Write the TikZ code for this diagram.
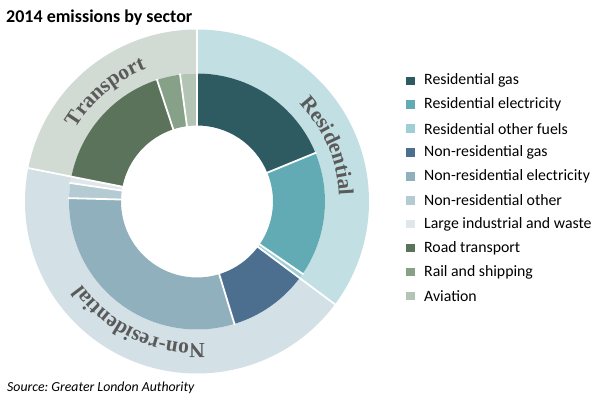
\documentclass[tikz,border=0pt]{standalone}
\usepackage{fontspec}
\setmainfont{Carlito}
\newfontfamily\arcfont{Liberation Serif}
\usetikzlibrary{decorations.text}
\frenchspacing

\definecolor{resgas}{HTML}{2E5A61}
\definecolor{reselec}{HTML}{62ABB5}
\definecolor{resother}{HTML}{9FCFD5}
\definecolor{nrgas}{HTML}{4D6F8F}
\definecolor{nrelec}{HTML}{8FB0BC}
\definecolor{nrother}{HTML}{B5CBD3}
\definecolor{largeind}{HTML}{DFE7EA}
\definecolor{road}{HTML}{5B735B}
\definecolor{rail}{HTML}{87A088}
\definecolor{aviat}{HTML}{B3C4B5}
\definecolor{outres}{HTML}{C2DFE3}
\definecolor{outnonres}{HTML}{D3E0E6}
\definecolor{outtrans}{HTML}{D2DBD3}
\definecolor{lblgray}{HTML}{5A5A5A}

% annular sector: colour, start, end, inner radius, outer radius
\newcommand\ringseg[5]{%
  \fill[#1] ([shift={(C)}]#2:#5) arc[start angle=#2, end angle=#3, radius=#5]
    -- ([shift={(C)}]#3:#4) arc[start angle=#3, end angle=#2, radius=#4] -- cycle;}
\newcommand\sepline[3]{%
  \draw[sep] ([shift={(C)}]#1:#2) -- ([shift={(C)}]#1:#3);}
\newcommand\arclabel[4]{%
  \path[decorate, decoration={text along path, text align=center,
      text color=lblgray, text={|\arcfont\bfseries\fontsize{21.5}{21.5}\selectfont|#4}}]
    ([shift={(C)}]#1:#3) arc[start angle=#1, end angle=#2, radius=#3];}

\tikzset{
  sep/.style={white, line width=1.8pt},
  legsq/.style={fill=#1, minimum size=8.5pt, inner sep=0pt, draw=none},
  legtxt/.style={anchor=west, inner sep=0pt, font=\fontsize{15.8}{18}\selectfont, text=black},
}

\begin{document}
\begin{tikzpicture}
\useasboundingbox (0,0) rectangle (610pt,401pt);
\fill[white] (0,0) rectangle (610pt,401pt);
\coordinate (C) at (197pt,199.5pt);

% outer ring
\ringseg{outres}{90}{-36.7}{128pt}{172pt}
\ringseg{outnonres}{-36.7}{-191.2}{128pt}{172pt}
\ringseg{outtrans}{-191.2}{-270}{128pt}{172pt}

% inner ring
\ringseg{resgas}{90}{22.3}{76pt}{128pt}
\ringseg{reselec}{22.3}{-34.4}{76pt}{128pt}
\ringseg{resother}{-34.4}{-36.7}{76pt}{128pt}
\ringseg{nrgas}{-36.7}{-73}{76pt}{128pt}
\ringseg{nrelec}{-73}{-181.5}{76pt}{128pt}
\ringseg{nrother}{-181.5}{-188.3}{76pt}{128pt}
\ringseg{largeind}{-188.3}{-191.2}{76pt}{128pt}
\ringseg{road}{-191.2}{-251.8}{76pt}{128pt}
\ringseg{rail}{-251.8}{-262.4}{76pt}{128pt}
\ringseg{aviat}{-262.4}{-270}{76pt}{128pt}

% separators
\sepline{90}{75pt}{173pt}
\sepline{-36.7}{75pt}{173pt}
\sepline{-191.2}{75pt}{173pt}
\sepline{22.3}{75pt}{129pt}
\sepline{-34.4}{75pt}{129pt}
\sepline{-73}{75pt}{129pt}
\sepline{-181.5}{75pt}{129pt}
\sepline{-188.3}{75pt}{129pt}
\sepline{-251.8}{75pt}{129pt}
\sepline{-262.4}{75pt}{129pt}

% curved sector labels
\arclabel{53}{-7}{142pt}{Residential}
\arclabel{-55.5}{-175.5}{142pt}{Non-residential}
\arclabel{160}{100}{142pt}{Transport}

% title and source
\node[anchor=base west, inner sep=0pt, font=\bfseries\fontsize{18}{20}\selectfont] (title) at (6pt,378pt) {2014 emissions by sector};
\node[anchor=base west, inner sep=0pt, font=\itshape\fontsize{13.8}{16}\selectfont] (source) at (7pt,9pt) {Source: Greater London Authority};

% legend
\foreach \c/\t [count=\i from 0] in {resgas/Residential gas, reselec/Residential electricity, resother/Residential other fuels, nrgas/Non-residential gas, nrelec/Non-residential electricity, nrother/Non-residential other, largeind/Large industrial and waste, road/Road transport, rail/Rail and shipping, aviat/Aviation}{
  \node[legsq=\c] (sq\i) at (410.5pt, {(401-80.8-23.9*\i)*1pt}) {};
  \node[legtxt] (lab\i) at (424pt, {(401-80.8-23.9*\i)*1pt}) {\t};
}
\end{tikzpicture}
\end{document}
